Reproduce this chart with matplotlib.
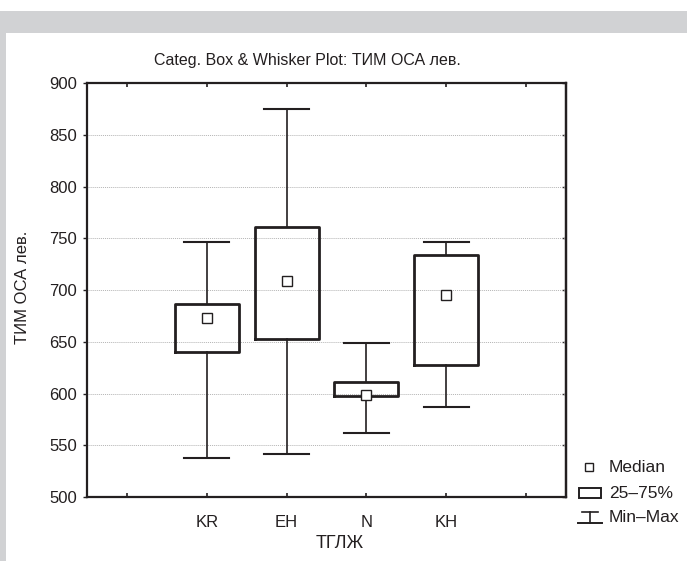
import matplotlib
matplotlib.use('Agg')
import matplotlib.pyplot as plt
from matplotlib.patches import Rectangle
from matplotlib.lines import Line2D

plt.rcParams['font.family'] = ['Liberation Sans', 'DejaVu Sans']

# values
groups = ['KR', 'EH', 'N', 'KH']
mins = [538, 542, 562, 587]
q1s = [640, 653, 598, 628]
medians = [673, 709, 599, 695]
q3s = [686, 761, 611, 734]
maxs = [746, 875, 649, 746]
yticks = [500, 550, 600, 650, 700, 750, 800, 850, 900]

dark = '#231f20'
W, H = 687, 561

fig = plt.figure(figsize=(W / 100, H / 100), dpi=100)

# grey frame like the source window
fig.patches.append(Rectangle((0, 0), 1, 1 - 11 / H, transform=fig.transFigure,
                             fc='#d1d2d4', ec='none', zorder=-10))
fig.patches.append(Rectangle((6 / W, 0), 1, 1 - 33 / H, transform=fig.transFigure,
                             fc='white', ec='none', zorder=-9))

ax = fig.add_axes([87 / W, 1 - 497 / H, (566 - 87) / W, (497 - 83) / H])
ax.set_facecolor('none')

pos = list(range(1, len(groups) + 1))
stats = []
for g, lo, a, m, b, hi in zip(groups, mins, q1s, medians, q3s, maxs):
    stats.append(dict(label=g, whislo=lo, q1=a, med=m, q3=b, whishi=hi, fliers=[]))

ax.bxp(stats, positions=pos, widths=0.8, capwidths=0.56, showfliers=False,
       boxprops=dict(color=dark, lw=2.0),
       whiskerprops=dict(color=dark, lw=1.2),
       capprops=dict(color=dark, lw=1.5),
       medianprops=dict(linestyle='none'))
ax.plot(pos, medians, 's', ms=6.5, mfc='white', mec=dark, mew=1.0, zorder=5)

ax.set_xlim(-0.5, 5.5)
ax.set_ylim(500, 900)
ax.set_xticks(range(0, 6))
ax.set_xticklabels([''] + groups + [''])
ax.set_yticks(yticks)
ax.yaxis.grid(True, linestyle=(0, (1, 1)), color='#b4b4b4', lw=0.7)
ax.set_axisbelow(True)

for s in ax.spines.values():
    s.set_linewidth(1.6)
    s.set_color(dark)

ax.tick_params(axis='x', direction='in', top=True, length=3, width=1.2,
               color=dark, labelsize=12, labelcolor=dark, pad=13)
ax.tick_params(axis='y', direction='out', length=3, width=1.0,
               color=dark, labelsize=12, labelcolor=dark, pad=4)
sec = ax.secondary_yaxis('right')
sec.set_yticks(yticks)
sec.tick_params(direction='in', length=3, width=1.0, color=dark, labelright=False)
sec.spines['right'].set_linewidth(1.6)

fig.text(307 / W, 1 - 60 / H, 'Categ. Box & Whisker Plot: ТИМ ОСА лев.',
         ha='center', va='center', fontsize=11.5, color=dark)
fig.text(340 / W, 1 - 543 / H, 'ТГЛЖ', ha='center', va='center', fontsize=13, color=dark)
fig.text(23 / W, 1 - 287 / H, 'ТИМ ОСА лев.', ha='center', va='center',
         rotation=90, fontsize=12, color=dark)

# legend drawn by hand
def fx(x):
    return x / W

def fy(y):
    return 1 - y / H

fig.add_artist(Line2D([fx(589)], [fy(467)], marker='s', ms=6, mfc='white',
                      mec=dark, mew=1.0, transform=fig.transFigure))
fig.add_artist(Rectangle((fx(579), fy(498)), 22 / W, 10 / H, transform=fig.transFigure,
                         fc='white', ec=dark, lw=1.4))
fig.add_artist(Line2D([fx(582), fx(598)], [fy(512), fy(512)], color=dark, lw=1.2,
                      transform=fig.transFigure))
fig.add_artist(Line2D([fx(590), fx(590)], [fy(512), fy(523)], color=dark, lw=1.2,
                      transform=fig.transFigure))
fig.add_artist(Line2D([fx(578), fx(602)], [fy(523), fy(523)], color=dark, lw=1.4,
                      transform=fig.transFigure))
fig.text(fx(609), fy(467), 'Median', va='center', fontsize=12.5, color=dark)
fig.text(fx(609), fy(493), '25–75%', va='center', fontsize=12.5, color=dark)
fig.text(fx(609), fy(518), 'Min–Max', va='center', fontsize=12.5, color=dark)

fig.savefig('out.png', dpi=100)
